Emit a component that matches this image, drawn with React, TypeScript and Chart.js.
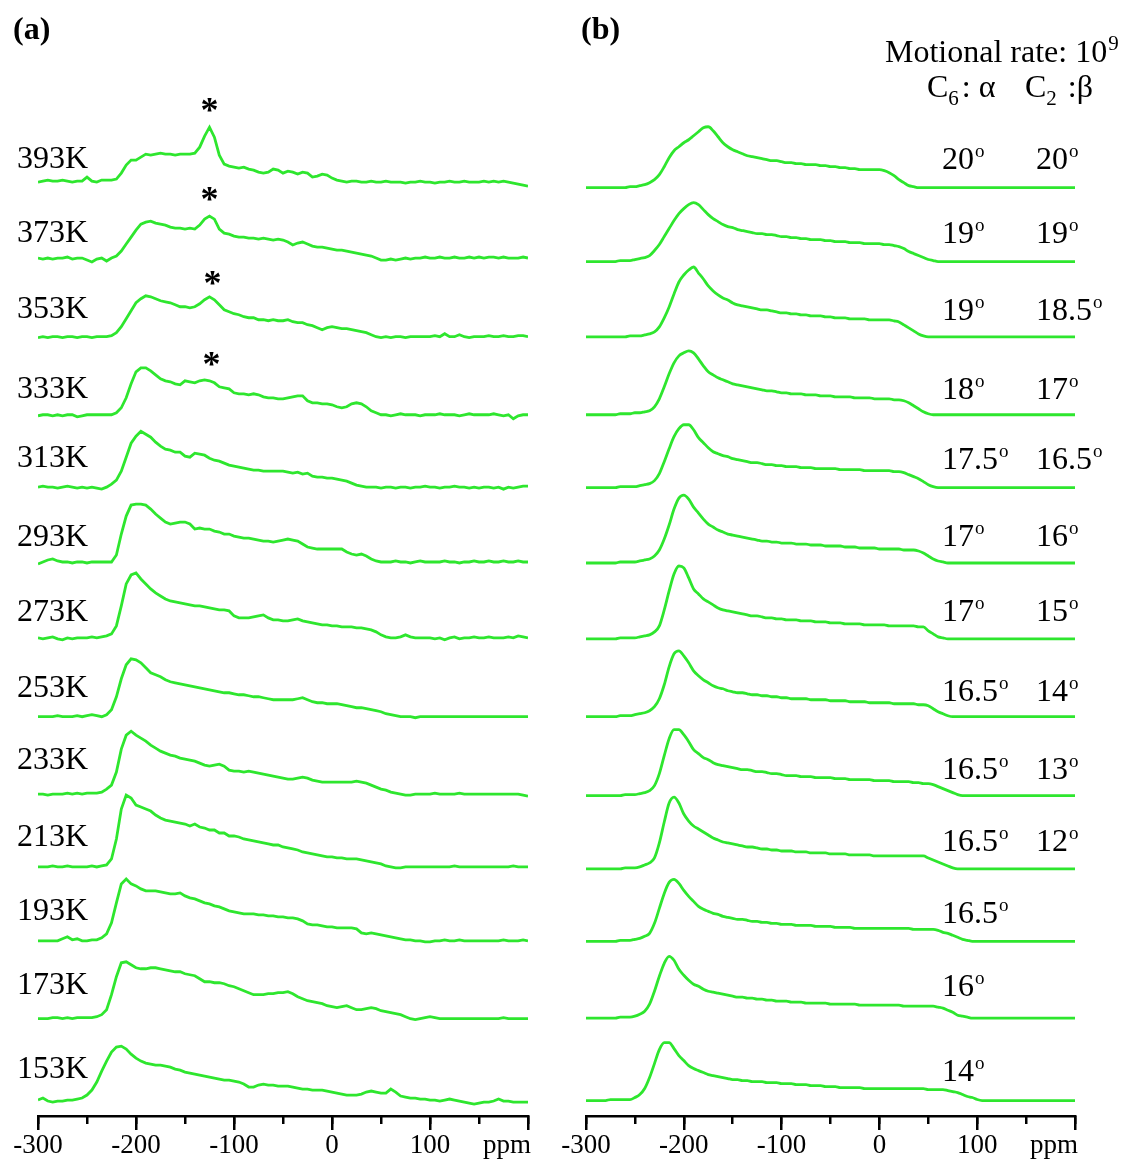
import React, { useEffect, useRef } from "react";
import { Chart, registerables } from "chart.js";

Chart.register(...registerables);

const SERIF = '"Liberation Serif", "Times New Roman", serif';
const GREEN = "#2ee62e";

// chemical shift grid (ppm), 5 ppm steps from -300 to 200
const PPM: number[] = Array.from({ length: 101 }, (_, i) => -300 + 5 * i);

// ---------- Panel (a): experimental spectra, top (393K) to bottom (153K) ----------
const TEMPS = ["393K", "373K", "353K", "333K", "313K", "293K", "273K", "253K", "233K", "213K", "193K", "173K", "153K"];

const A393 = [
  0, 1, 2, 1, 1, 2, 1, 0, 1, 1,
  5, 1, 0, 2, 2, 2, 3, 9, 17, 22,
  22, 25, 28, 27, 28, 29, 28, 28, 27, 28,
  28, 28, 29, 35, 46, 55, 45, 27, 18, 16,
  15, 14, 15, 13, 12, 10, 9, 10, 13, 12,
  9, 11, 10, 8, 10, 9, 5, 6, 8, 7,
  4, 2, 1, 0, 1, 1, 0, 0, 1, 0,
  0, 1, 0, 0, 0, -1, 0, 0, 1, 0,
  0, -1, 0, 0, 1, 0, 0, 1, 0, 0,
  0, 1, 0, 1, 0, 1, 0, -1, -2, -3,
  -4,
];
const A373 = [
  0, -1, 0, -1, 0, 0, 1, -1, 0, 0,
  -2, -4, -1, 0, -3, 0, 2, 7, 14, 21,
  28, 34, 36, 37, 35, 34, 33, 31, 30, 30,
  29, 30, 29, 33, 39, 42, 39, 29, 25, 24,
  22, 21, 21, 20, 20, 19, 20, 19, 18, 19,
  18, 16, 13, 15, 16, 14, 12, 11, 11, 10,
  9, 8, 8, 7, 6, 5, 4, 3, 2, 0,
  -2, -2, -1, -2, -1, 0, -1, 0, 0, 1,
  0, 0, 1, 0, 0, 1, 0, 0, 1, 0,
  1, 0, 1, 1, 0, 1, 0, 0, 0, 1,
  0,
];
const A353 = [
  -1, 0, -1, 0, 0, -1, 0, 0, -1, 0,
  0, -1, 0, 0, 0, 1, 4, 10, 18, 26,
  34, 38, 41, 40, 38, 36, 35, 34, 32, 30,
  30, 29, 30, 33, 37, 40, 37, 32, 27, 25,
  23, 22, 20, 19, 19, 17, 17, 16, 17, 16,
  16, 17, 15, 14, 14, 12, 11, 9, 7, 9,
  10, 9, 8, 8, 7, 6, 5, 4, 2, 0,
  -1, 0, -1, 0, 0, -1, 0, 0, 0, 0,
  0, 1, 0, 3, 0, 0, 2, 0, -1, 0,
  0, 0, 1, 0, 0, 1, 0, 0, 1, 1,
  0,
];
const A333 = [
  -1, 0, 0, -1, 0, -1, 0, 0, -2, -1,
  0, 0, 0, 0, 0, 0, 2, 7, 17, 31,
  43, 47, 47, 44, 40, 36, 34, 33, 31, 30,
  34, 33, 32, 34, 35, 34, 32, 28, 27, 26,
  22, 21, 21, 20, 21, 20, 18, 17, 17, 16,
  16, 17, 18, 19, 19, 14, 12, 12, 11, 11,
  10, 8, 7, 8, 11, 12, 11, 8, 4, 2,
  0, 0, -1, 0, 1, 0, 0, 0, -1, 0,
  0, 0, 1, 0, 0, 0, -1, 0, 1, 0,
  0, 0, 0, 1, 0, -1, 0, -4, -1, 0,
  0,
];
const A313 = [
  0, 1, 0, 0, -1, 0, 1, 0, -1, 0,
  -1, 0, -1, -2, 0, 3, 7, 16, 30, 44,
  51, 56, 53, 50, 45, 41, 38, 37, 35, 35,
  31, 30, 34, 33, 32, 29, 27, 26, 24, 22,
  21, 20, 19, 18, 17, 17, 16, 16, 16, 16,
  16, 15, 14, 15, 13, 14, 11, 10, 10, 9,
  9, 8, 7, 6, 4, 2, 1, 0, 0, 0,
  -1, 0, 0, -1, 0, 0, -1, 0, 0, 1,
  0, 0, -1, 0, 0, 1, 0, 0, -1, 0,
  -1, 0, 0, -1, 0, -2, 0, -1, 0, 1,
  1,
];
const A293 = [
  -2, 0, 2, 3, 1, 0, 0, -1, 0, 0,
  -1, 0, 0, 0, 0, 0, 7, 28, 46, 57,
  58, 58, 57, 53, 48, 44, 40, 38, 39, 40,
  40, 38, 33, 34, 33, 33, 31, 30, 28, 28,
  26, 25, 24, 24, 23, 22, 21, 21, 20, 21,
  22, 23, 22, 21, 18, 15, 14, 13, 13, 13,
  13, 13, 13, 10, 8, 7, 8, 6, 3, 1,
  0, 0, 0, 1, 0, 0, -1, 0, 1, 0,
  0, 0, 0, 1, 0, 0, -1, 0, 0, 1,
  0, 0, 1, 0, 0, 1, 0, 0, 1, 0,
  0,
];
const A273 = [
  0, -1, 0, 1, -1, -2, 0, -1, 0, 0,
  0, 1, 0, 1, 2, 4, 12, 32, 54, 63,
  65, 59, 54, 49, 45, 42, 39, 37, 36, 35,
  34, 33, 32, 32, 31, 30, 29, 28, 28, 27,
  22, 20, 20, 20, 21, 22, 23, 20, 18, 18,
  17, 17, 18, 19, 17, 16, 15, 14, 13, 13,
  12, 12, 11, 11, 11, 10, 10, 9, 8, 6,
  3, 1, 0, 0, 1, 3, 1, 0, 0, 0,
  0, -1, 0, -2, 0, 1, -1, 0, 0, 1,
  0, 0, 1, 0, 0, 0, 1, 0, 2, 1,
  0,
];
const A253 = [
  0, 0, 0, 0, 1, 0, 0, 0, 1, 0,
  1, 2, 1, 0, 2, 7, 20, 38, 52, 58,
  57, 54, 49, 44, 42, 40, 37, 35, 34, 33,
  32, 31, 30, 29, 28, 27, 26, 25, 24, 24,
  23, 22, 22, 21, 20, 20, 19, 18, 17, 17,
  17, 17, 17, 18, 19, 17, 15, 14, 14, 13,
  13, 13, 12, 11, 10, 9, 9, 8, 7, 6,
  5, 3, 2, 1, 0, 0, 0, -1, 0, 0,
  0, 0, 0, 0, 0, 0, 0, 0, 0, 0,
  0, 0, 0, 0, 0, 0, 0, 0, 0, 0,
  0,
];
const A233 = [
  0, 0, -1, 0, 0, 0, 1, 0, 1, 0,
  1, 1, 1, 2, 5, 9, 22, 45, 59, 63,
  59, 56, 53, 49, 46, 43, 41, 39, 38, 36,
  35, 34, 33, 31, 29, 28, 29, 30, 28, 24,
  23, 23, 22, 23, 22, 21, 20, 19, 18, 17,
  16, 15, 15, 16, 17, 16, 14, 13, 12, 12,
  12, 12, 12, 12, 12, 13, 12, 11, 9, 7,
  5, 4, 2, 1, 0, -1, -1, 0, 0, 0,
  0, 1, 0, 0, 0, 0, 1, 0, 0, 0,
  0, 0, 0, 0, 0, 0, 0, 0, 0, -1,
  -2,
];
const A213 = [
  0, 0, 0, 1, 0, 0, 1, 0, 0, 0,
  0, 1, 0, 1, 2, 8, 28, 58, 72, 69,
  62, 60, 58, 56, 52, 49, 47, 46, 45, 44,
  43, 41, 43, 40, 39, 37, 37, 34, 34, 31,
  31, 30, 28, 27, 26, 25, 24, 23, 22, 22,
  20, 19, 18, 17, 15, 14, 13, 12, 11, 10,
  10, 9, 9, 8, 8, 8, 7, 6, 5, 4,
  3, 1, 0, -1, -1, 0, 0, 0, 0, 0,
  0, 0, 0, 0, 0, 1, 0, 0, 0, 0,
  0, 0, 0, 0, 0, 0, 0, 1, 0, 0,
  0,
];
const A193 = [
  0, 0, 0, 0, 0, 2, 4, 1, 2, 0,
  0, 1, 1, 3, 7, 18, 38, 57, 62, 57,
  55, 52, 50, 50, 50, 49, 48, 47, 47, 48,
  45, 43, 42, 40, 38, 37, 35, 34, 32, 30,
  29, 28, 27, 27, 27, 26, 26, 25, 25, 24,
  24, 23, 23, 22, 20, 17, 16, 16, 15, 14,
  14, 13, 13, 13, 13, 12, 8, 7, 8, 7,
  6, 5, 4, 3, 2, 1, 1, 0, 0, -1,
  -1, 0, 0, 1, 0, 0, 1, 0, 0, 0,
  0, 0, 0, 0, 0, 1, 0, 0, 0, 1,
  0,
];
const A173 = [
  0, 0, 0, 1, 1, 0, 1, 0, 1, 1,
  1, 1, 2, 4, 9, 24, 42, 56, 57, 54,
  51, 50, 50, 51, 51, 50, 49, 48, 47, 47,
  45, 44, 43, 40, 37, 37, 36, 36, 35, 33,
  32, 30, 28, 26, 24, 24, 24, 25, 25, 26,
  26, 27, 25, 22, 20, 18, 17, 16, 15, 13,
  12, 11, 12, 13, 11, 9, 9, 10, 11, 10,
  8, 7, 6, 5, 4, 2, 0, -1, 0, 1,
  2, 1, 0, 0, 0, 0, 0, 0, 0, 0,
  0, 0, 0, 0, 0, 1, 0, 0, 0, 0,
  0,
];
const A153 = [
  2, 4, 1, 0, 1, 1, 2, 2, 3, 4,
  7, 12, 20, 31, 41, 50, 55, 56, 53, 48,
  44, 41, 39, 38, 37, 37, 36, 35, 33, 32,
  30, 29, 28, 27, 26, 25, 24, 23, 22, 22,
  21, 20, 18, 15, 15, 17, 18, 17, 17, 16,
  16, 16, 15, 14, 13, 13, 12, 12, 12, 11,
  10, 9, 8, 7, 7, 7, 8, 10, 11, 10,
  9, 9, 13, 10, 6, 5, 4, 4, 3, 3,
  2, 2, 1, 2, 3, 2, 1, 0, -1, -2,
  -1, 0, 0, 1, 3, 1, 1, 0, 0, 0,
  0,
];
const A_ROWS = [A393, A373, A353, A333, A313, A293, A273, A253, A233, A213, A193, A173, A153];

// spectra marked with * (row index, ppm of the marked peak)
const STAR_ROWS = [0, 1, 2, 3];
const STAR_PPM = [-125, -125, -122, -123];

// ---------- Panel (b): simulated spectra, top to bottom ----------
const ANGLE_C6 = ["20", "19", "19", "18", "17.5", "17", "17", "16.5", "16.5", "16.5", "16.5", "16", "14"];
const ANGLE_C2 = ["20", "19", "18.5", "17", "16.5", "16", "15", "14", "13", "12", "", "", ""];

const B01 = [
  0, 0, 0, 0, 0, 0, 0, 0, 0, 1,
  1, 2, 3, 5, 8, 13, 21, 30, 37, 41,
  45, 48, 52, 56, 60, 61, 57, 51, 45, 41,
  38, 36, 34, 32, 31, 30, 29, 28, 27, 27,
  26, 25, 25, 24, 24, 23, 23, 23, 22, 22,
  21, 21, 20, 20, 19, 19, 18, 18, 18, 18,
  18, 17, 15, 12, 8, 5, 2, 1, 0, 0,
  0, 0, 0, 0, 0, 0, 0, 0, 0, 0,
  0, 0, 0, 0, 0, 0, 0, 0, 0, 0,
  0, 0, 0, 0, 0, 0, 0, 0, 0, 0,
  0,
];
const B02 = [
  0, 0, 0, 0, 0, 0, 0, 1, 1, 1,
  2, 3, 4, 6, 11, 17, 25, 33, 41, 48,
  53, 57, 59, 57, 52, 47, 43, 40, 37, 35,
  34, 32, 31, 30, 29, 28, 28, 27, 27, 26,
  25, 25, 24, 24, 23, 23, 22, 22, 22, 21,
  21, 20, 20, 20, 19, 19, 19, 18, 18, 18,
  18, 17, 17, 16, 15, 13, 10, 8, 6, 4,
  2, 1, 0, 0, 0, 0, 0, 0, 0, 0,
  0, 0, 0, 0, 0, 0, 0, 0, 0, 0,
  0, 0, 0, 0, 0, 0, 0, 0, 0, 0,
  0,
];
const B03 = [
  0, 0, 0, 0, 0, 0, 0, 0, 0, 1,
  1, 1, 2, 3, 5, 10, 19, 30, 43, 55,
  62, 67, 70, 64, 58, 51, 46, 42, 39, 37,
  34, 32, 31, 30, 29, 28, 27, 27, 26, 25,
  24, 24, 23, 23, 22, 22, 21, 21, 21, 20,
  20, 19, 19, 19, 18, 18, 18, 18, 17, 17,
  17, 17, 17, 16, 15, 12, 9, 6, 3, 1,
  0, 0, 0, 0, 0, 0, 0, 0, 0, 0,
  0, 0, 0, 0, 0, 0, 0, 0, 0, 0,
  0, 0, 0, 0, 0, 0, 0, 0, 0, 0,
  0,
];
const B04 = [
  0, 0, 0, 0, 0, 0, 0, 1, 1, 1,
  2, 2, 3, 4, 8, 16, 28, 41, 52, 59,
  62, 64, 62, 56, 49, 43, 40, 37, 35, 33,
  31, 30, 29, 28, 27, 26, 25, 24, 24, 23,
  22, 22, 21, 21, 21, 20, 20, 20, 19, 19,
  19, 18, 18, 18, 18, 17, 17, 17, 17, 16,
  16, 16, 16, 15, 15, 14, 12, 9, 6, 3,
  1, 0, 0, 0, 0, 0, 0, 0, 0, 0,
  0, 0, 0, 0, 0, 0, 0, 0, 0, 0,
  0, 0, 0, 0, 0, 0, 0, 0, 0, 0,
  0,
];
const B05 = [
  0, 0, 0, 0, 0, 0, 0, 1, 1, 1,
  1, 2, 3, 4, 7, 14, 26, 39, 51, 59,
  63, 63, 58, 50, 45, 40, 36, 34, 32, 31,
  29, 28, 27, 26, 25, 25, 24, 23, 23, 22,
  22, 21, 21, 21, 20, 20, 20, 19, 19, 19,
  19, 19, 18, 18, 18, 18, 18, 17, 17, 17,
  17, 17, 17, 16, 16, 15, 13, 11, 9, 6,
  3, 1, 0, 0, 0, 0, 0, 0, 0, 0,
  0, 0, 0, 0, 0, 0, 0, 0, 0, 0,
  0, 0, 0, 0, 0, 0, 0, 0, 0, 0,
  0,
];
const B06 = [
  0, 0, 0, 0, 0, 0, 0, 1, 1, 1,
  1, 2, 3, 4, 7, 13, 24, 38, 54, 65,
  68, 64, 56, 50, 44, 39, 36, 33, 31, 29,
  28, 27, 26, 25, 24, 23, 22, 22, 21, 21,
  20, 20, 20, 19, 19, 19, 18, 18, 18, 17,
  17, 17, 17, 16, 16, 16, 15, 15, 15, 15,
  14, 14, 14, 14, 14, 13, 13, 13, 12, 10,
  7, 4, 2, 1, 0, 0, 0, 0, 0, 0,
  0, 0, 0, 0, 0, 0, 0, 0, 0, 0,
  0, 0, 0, 0, 0, 0, 0, 0, 0, 0,
  0,
];
const B07 = [
  0, 0, 0, 0, 0, 0, 0, 1, 1, 1,
  1, 2, 3, 4, 7, 13, 29, 48, 65, 73,
  71, 61, 50, 45, 40, 37, 34, 31, 29, 28,
  27, 26, 25, 24, 23, 23, 22, 21, 21, 20,
  20, 19, 19, 19, 18, 18, 18, 17, 17, 17,
  16, 16, 16, 15, 15, 15, 15, 14, 14, 14,
  14, 14, 13, 13, 13, 13, 13, 13, 12, 12,
  8, 5, 2, 1, 0, 0, 0, 0, 0, 0,
  0, 0, 0, 0, 0, 0, 0, 0, 0, 0,
  0, 0, 0, 0, 0, 0, 0, 0, 0, 0,
  0,
];
const B08 = [
  0, 0, 0, 0, 0, 0, 0, 1, 1, 1,
  2, 3, 4, 6, 10, 18, 32, 50, 63, 66,
  61, 54, 46, 41, 37, 34, 31, 29, 28, 26,
  25, 24, 24, 23, 22, 22, 21, 21, 20, 20,
  19, 19, 18, 18, 18, 18, 17, 17, 17, 17,
  16, 16, 16, 16, 15, 15, 15, 15, 14, 14,
  14, 14, 14, 13, 13, 13, 13, 13, 12, 12,
  11, 8, 5, 3, 1, 0, 0, 0, 0, 0,
  0, 0, 0, 0, 0, 0, 0, 0, 0, 0,
  0, 0, 0, 0, 0, 0, 0, 0, 0, 0,
  0,
];
const B09 = [
  0, 0, 0, 0, 0, 0, 0, 0, 1, 1,
  1, 2, 3, 5, 10, 22, 40, 57, 66, 66,
  61, 54, 46, 42, 38, 36, 33, 31, 30, 29,
  28, 27, 26, 26, 25, 24, 24, 23, 22, 22,
  21, 20, 20, 20, 19, 19, 19, 18, 18, 18,
  18, 17, 17, 17, 16, 16, 16, 16, 16, 15,
  15, 15, 15, 14, 14, 14, 14, 13, 13, 12,
  12, 11, 9, 7, 5, 3, 1, 0, 0, 0,
  0, 0, 0, 0, 0, 0, 0, 0, 0, 0,
  0, 0, 0, 0, 0, 0, 0, 0, 0, 0,
  0,
];
const B10 = [
  0, 0, 0, 0, 0, 0, 0, 0, 1, 1,
  1, 2, 4, 6, 11, 26, 47, 66, 72, 66,
  55, 48, 43, 40, 37, 34, 31, 29, 27, 26,
  25, 24, 23, 22, 22, 21, 20, 20, 19, 19,
  18, 18, 18, 17, 17, 17, 16, 16, 16, 16,
  15, 15, 15, 15, 14, 14, 14, 14, 14, 13,
  13, 13, 13, 13, 13, 13, 13, 13, 13, 13,
  11, 9, 7, 5, 3, 1, 0, 0, 0, 0,
  0, 0, 0, 0, 0, 0, 0, 0, 0, 0,
  0, 0, 0, 0, 0, 0, 0, 0, 0, 0,
  0,
];
const B11 = [
  0, 0, 0, 0, 0, 0, 0, 1, 1, 1,
  2, 3, 5, 8, 18, 33, 48, 59, 62, 58,
  51, 45, 40, 35, 32, 30, 28, 27, 25, 24,
  23, 22, 22, 21, 20, 20, 19, 19, 18, 18,
  17, 17, 17, 16, 16, 16, 16, 15, 15, 15,
  15, 14, 14, 14, 14, 13, 13, 13, 13, 13,
  13, 13, 13, 13, 13, 13, 13, 12, 12, 12,
  12, 12, 11, 9, 8, 6, 4, 2, 1, 0,
  0, 0, 0, 0, 0, 0, 0, 0, 0, 0,
  0, 0, 0, 0, 0, 0, 0, 0, 0, 0,
  0,
];
const B12 = [
  0, 0, 0, 0, 0, 0, 0, 1, 1, 1,
  2, 4, 7, 14, 27, 42, 55, 62, 58, 49,
  43, 38, 34, 32, 29, 27, 26, 25, 24, 23,
  22, 21, 21, 20, 20, 19, 19, 18, 18, 17,
  17, 17, 16, 16, 16, 15, 15, 15, 15, 15,
  14, 14, 14, 14, 14, 14, 13, 13, 13, 13,
  13, 13, 13, 13, 13, 12, 12, 12, 12, 12,
  12, 12, 11, 10, 8, 6, 3, 2, 1, 0,
  0, 0, 0, 0, 0, 0, 0, 0, 0, 0,
  0, 0, 0, 0, 0, 0, 0, 0, 0, 0,
  0,
];
const B13 = [
  0, 0, 0, 0, 0, 1, 1, 1, 1, 1,
  3, 6, 12, 23, 37, 51, 58, 58, 52, 45,
  40, 35, 32, 30, 28, 26, 25, 24, 23, 22,
  21, 21, 20, 20, 19, 19, 19, 18, 18, 18,
  17, 17, 17, 16, 16, 16, 15, 15, 15, 14,
  14, 14, 13, 13, 13, 13, 13, 12, 12, 12,
  12, 12, 12, 12, 12, 12, 12, 12, 12, 12,
  11, 11, 11, 11, 10, 9, 8, 6, 4, 3,
  1, 0, 0, 0, 0, 0, 0, 0, 0, 0,
  0, 0, 0, 0, 0, 0, 0, 0, 0, 0,
  0,
];
const B_ROWS = [B01, B02, B03, B04, B05, B06, B07, B08, B09, B10, B11, B12, B13];

// ---------- layout (stacking offsets of each trace, label placement) ----------
const OFFSETS_A = [921.6, 845.5, 766.7, 688.5, 616, 541, 465, 386, 308.5, 235.5, 161.5, 83.5, 0];
const OFFSETS_B = [914.5, 840.5, 765, 687, 614, 538.5, 462.5, 384.5, 305.5, 232, 159.5, 82.5, 0];
const TEMP_RAISE = [14, 16, 19, 17, 20, 16, 17, 20, 25, 21, 21, 25, 24];
const ANGLE_RAISE = [19, 19, 17, 15.5, 18.5, 17, 18, 16, 17, 17.5, 18, 22, 19.5];
const AXIS_BOTTOM = 1118; // page y of the x axis line
const H = 1161;

function makeDatasets(rows: number[][], offsets: number[], smooth: boolean) {
  return rows.map((vals, i) => ({
    data: PPM.map((p, j) => ({ x: p, y: offsets[i] + vals[j] })),
    borderColor: GREEN,
    borderWidth: 2.8,
    pointRadius: 0,
    fill: false,
    tension: smooth ? 0.4 : 0,
    cubicInterpolationMode: smooth ? "monotone" : "default",
  }));
}

function makeOptions(yMin: number, yMax: number, padL: number, padR: number): any {
  return {
    animation: false,
    responsive: false,
    devicePixelRatio: 1,
    events: [],
    layout: { padding: { left: padL, right: padR, top: 0, bottom: 0 } },
    plugins: { legend: { display: false }, tooltip: { enabled: false } },
    scales: {
      x: {
        type: "linear",
        position: "bottom",
        min: -300,
        max: 200,
        ticks: {
          stepSize: 100,
          autoSkip: false,
          maxRotation: 0,
          minRotation: 0,
          padding: 2,
          color: "#000",
          font: { family: SERIF, size: 27, lineHeight: 1 },
          callback: (v: number) => (v === 200 ? "" : String(v)),
        },
        grid: { drawOnChartArea: false, drawTicks: true, tickLength: 14, color: "#000", lineWidth: 2.5 },
        border: { display: true, color: "#000", width: 2.5 },
      },
      x2: {
        type: "linear",
        axis: "x",
        position: { y: yMin },
        min: -300,
        max: 200,
        ticks: { stepSize: 50, display: false },
        grid: { drawOnChartArea: false, drawTicks: true, tickLength: 8, color: "#000", lineWidth: 2.5 },
        border: { display: false },
      },
      y: { type: "linear", display: false, min: yMin, max: yMax },
    },
  };
}

function drawDegree(ctx: CanvasRenderingContext2D, text: string, x: number, yBase: number) {
  if (!text) return;
  ctx.font = `32px ${SERIF}`;
  ctx.fillText(text, x, yBase);
  const w = ctx.measureText(text).width;
  ctx.font = `19px ${SERIF}`;
  ctx.fillText("o", x + w + 1, yBase - 12);
}

const pluginA = {
  id: "labelsA",
  afterDraw(chart: any) {
    const { ctx, scales } = chart;
    const x = scales.x;
    const y = scales.y;
    ctx.save();
    ctx.fillStyle = "#000";
    ctx.textAlign = "left";
    ctx.textBaseline = "alphabetic";
    ctx.font = `bold 32px ${SERIF}`;
    ctx.fillText("(a)", 13, 39);
    ctx.font = `32px ${SERIF}`;
    TEMPS.forEach((t, i) => {
      ctx.fillText(t, 17, y.getPixelForValue(OFFSETS_A[i] + TEMP_RAISE[i]));
    });
    ctx.textAlign = "center";
    ctx.font = `bold 36px ${SERIF}`;
    STAR_ROWS.forEach((r, k) => {
      const p = STAR_PPM[k];
      const idx = Math.round((p + 300) / 5);
      const cy = y.getPixelForValue(OFFSETS_A[r] + A_ROWS[r][idx] + 22);
      ctx.fillText("*", x.getPixelForValue(p), cy + 17);
    });
    ctx.font = `27px ${SERIF}`;
    ctx.textBaseline = "middle";
    ctx.fillText("ppm", x.getPixelForValue(200) - 21, x.top + 14 + 2 + 13.5);
    ctx.restore();
  },
};

const pluginB = {
  id: "labelsB",
  afterDraw(chart: any) {
    const { ctx, scales } = chart;
    const x = scales.x;
    const y = scales.y;
    const ox = 540; // canvas left on page
    ctx.save();
    ctx.fillStyle = "#000";
    ctx.textAlign = "left";
    ctx.textBaseline = "alphabetic";
    ctx.font = `bold 32px ${SERIF}`;
    ctx.fillText("(b)", 581 - ox, 39);

    // header
    ctx.font = `32px ${SERIF}`;
    const head = "Motional rate: 10";
    ctx.fillText(head, 885 - ox, 62);
    const hw = ctx.measureText(head).width;
    ctx.font = `21px ${SERIF}`;
    ctx.fillText("9", 885 - ox + hw + 1, 50);

    const sub = (main: string, s: string, rest: string, x0: number) => {
      let cx = x0 - ox;
      ctx.font = `32px ${SERIF}`;
      ctx.fillText(main, cx, 97);
      cx += ctx.measureText(main).width;
      ctx.font = `21px ${SERIF}`;
      ctx.fillText(s, cx, 105);
      cx += ctx.measureText(s).width + 3;
      ctx.font = `32px ${SERIF}`;
      ctx.fillText(rest, cx, 97);
    };
    sub("C", "6", ": \u03b1", 927);
    sub("C", "2", " :\u03b2", 1025);

    ANGLE_C6.forEach((a, i) => {
      const yb = y.getPixelForValue(OFFSETS_B[i] + ANGLE_RAISE[i]);
      drawDegree(ctx, a, 942 - ox, yb);
      drawDegree(ctx, ANGLE_C2[i], 1036 - ox, yb);
    });

    ctx.font = `27px ${SERIF}`;
    ctx.textAlign = "center";
    ctx.textBaseline = "middle";
    ctx.fillText("ppm", x.getPixelForValue(200) - 21, x.top + 14 + 2 + 13.5);
    ctx.restore();
  },
};

export default function App() {
  const refA = useRef<HTMLCanvasElement | null>(null);
  const refB = useRef<HTMLCanvasElement | null>(null);

  useEffect(() => {
    if (!refA.current || !refB.current) return;
    const yMinA = -(AXIS_BOTTOM - 1104);
    const yMinB = -(AXIS_BOTTOM - 1102.5);
    const chartA = new Chart(refA.current, {
      type: "line",
      data: { datasets: makeDatasets(A_ROWS, OFFSETS_A, false) as any },
      options: makeOptions(yMinA, yMinA + AXIS_BOTTOM, 38, 32),
      plugins: [pluginA],
    });
    const chartB = new Chart(refB.current, {
      type: "line",
      data: { datasets: makeDatasets(B_ROWS, OFFSETS_B, true) as any },
      options: makeOptions(yMinB, yMinB + AXIS_BOTTOM, 46, 55),
      plugins: [pluginB],
    });
    return () => {
      chartA.destroy();
      chartB.destroy();
    };
  }, []);

  return (
    <div style={{ position: "absolute", left: 0, top: 0, width: 1130, height: H, overflow: "hidden", background: "#fff" }}>
      <canvas ref={refA} width={560} height={H} style={{ position: "absolute", left: 0, top: 0, width: 560, height: H }} />
      <canvas ref={refB} width={590} height={H} style={{ position: "absolute", left: 540, top: 0, width: 590, height: H }} />
    </div>
  );
}
